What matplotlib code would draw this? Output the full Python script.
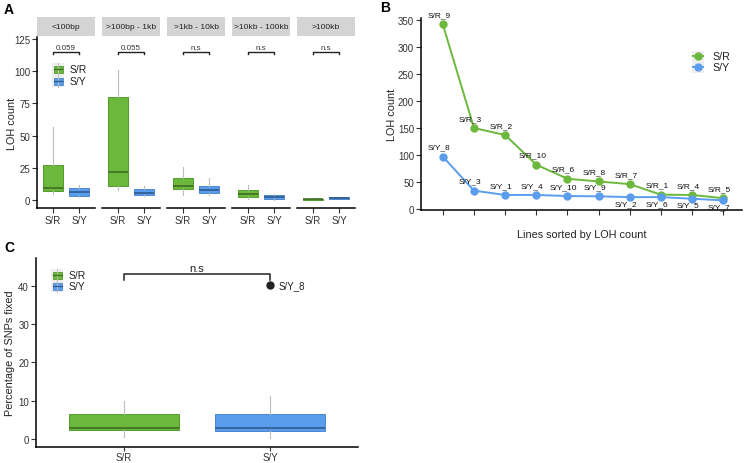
import matplotlib
matplotlib.use('Agg')
import matplotlib.pyplot as plt
from matplotlib.patches import Rectangle
from matplotlib.lines import Line2D

plt.rcParams['font.family'] = ['Liberation Sans', 'DejaVu Sans']

# ---------------- data ----------------
groups = ['S/R', 'S/Y']
size_bins = ['<100bp', '>100bp - 1kb', '>1kb - 10kb', '>10kb - 100kb', '>100kb']
# five-number summaries per size bin: [whisker low, Q1, median, Q3, whisker high]
sr_stats = [[5, 7, 9.5, 27, 57], [8, 11, 22, 80, 101], [4, 8.5, 10.5, 17, 26],
            [1, 2, 4.5, 7.5, 11.5], [0, 0, 0.5, 1, 1.5]]
sy_stats = [[2, 3, 6.5, 9.5, 12], [3, 4, 5.5, 8.5, 11], [4, 5.5, 8, 11, 17],
            [0, 1, 2.5, 4, 4.5], [0.5, 1, 1.5, 2, 2.2]]
pvals = ['0.059', '0.055', 'n.s', 'n.s', 'n.s']
bracket_y_a = 115
yticks_a = [0, 25, 50, 75, 100, 125]

sr_labels = ['S/R_9', 'S/R_3', 'S/R_2', 'S/R_10', 'S/R_6', 'S/R_8', 'S/R_7', 'S/R_1', 'S/R_4', 'S/R_5']
sr_counts = [342, 150, 137, 82, 56, 51, 46, 26.5, 26, 20]
sy_labels = ['S/Y_8', 'S/Y_3', 'S/Y_1', 'S/Y_4', 'S/Y_10', 'S/Y_9', 'S/Y_2', 'S/Y_6', 'S/Y_5', 'S/Y_7']
sy_counts = [97, 34, 26, 26, 24, 23.5, 22, 22, 19, 16]
yticks_b = [0, 50, 100, 150, 200, 250, 300, 350]

snp_sr = [0.6, 2.3, 2.9, 6.6, 9.8]
snp_sy = [0.35, 2.0, 3.0, 6.6, 11.3]
snp_outlier = 40.2
snp_outlier_label = 'S/Y_8'
bracket_y_c = 43
yticks_c = [0, 10, 20, 30, 40]

# ---------------- style ----------------
GREEN, GREEN_E, GREEN_M = '#6cb83d', '#559a2e', '#3c6e22'
BLUE, BLUE_E, BLUE_M = '#5b9ded', '#4d86cc', '#2e5a8c'
WHISK = '#bdbdbd'
fills = [GREEN, BLUE]
edges = [GREEN_E, BLUE_E]
meds = [GREEN_M, BLUE_M]

W, H = 744, 464
fig = plt.figure(figsize=(W / 100, H / 100), dpi=100)


def px_axes(l, t, r, b):
    return fig.add_axes([l / W, 1 - b / H, (r - l) / W, (b - t) / H])


def fx(x):
    return x / W


def fy(y):
    return 1 - y / H


def style_axes(ax, left=True):
    for s in ['top', 'right']:
        ax.spines[s].set_visible(False)
    ax.spines['left'].set_visible(left)
    ax.spines['bottom'].set_linewidth(1.1)
    ax.spines['left'].set_linewidth(1.1)
    ax.tick_params(axis='both', length=3.5, width=0.8, labelsize=7, colors='#333333',
                   labelcolor='#333333', pad=1.5)
    ax.patch.set_alpha(0)


def draw_box(ax, pos, st, i, width=0.75):
    stats = [dict(whislo=st[0], q1=st[1], med=st[2], q3=st[3], whishi=st[4], fliers=[])]
    ax.bxp(stats, positions=[pos], widths=width, patch_artist=True, showcaps=False,
           showfliers=False,
           boxprops=dict(facecolor=fills[i], edgecolor=edges[i], linewidth=0.7),
           medianprops=dict(color=meds[i], linewidth=1.2),
           whiskerprops=dict(color=WHISK, linewidth=0.8), manage_ticks=False)


def box_legend(x, ys, fs=7.5):
    for i, y in enumerate(ys):
        fig.add_artist(Rectangle((fx(x - 6), fy(y + 6)), 12 / W, 12 / H, transform=fig.transFigure,
                                 facecolor='#eeeeee', edgecolor='none'))
        fig.add_artist(Line2D([fx(x), fx(x)], [fy(y + 6), fy(y - 6)], transform=fig.transFigure,
                              color=WHISK, lw=0.7))
        fig.add_artist(Rectangle((fx(x - 4.5), fy(y + 3.5)), 9 / W, 7 / H, transform=fig.transFigure,
                                 facecolor=fills[i], edgecolor=edges[i], lw=0.6))
        fig.add_artist(Line2D([fx(x - 4.5), fx(x + 4.5)], [fy(y), fy(y)], transform=fig.transFigure,
                              color=meds[i], lw=0.9))
        fig.text(fx(x + 12), fy(y), groups[i], fontsize=fs, va='center', ha='left', color='#222222')


# ---------------- Panel A ----------------
top_a, bot_a = 38, 209
ppu = (201 - 40) / 125.0
ylo = -(bot_a - 201) / ppu
yhi = (201 - top_a) / ppu
for k, name in enumerate(size_bins):
    l = 37 + 65 * k
    ax = px_axes(l, top_a, l + 58, bot_a)
    draw_box(ax, 1, sr_stats[k], 0)
    draw_box(ax, 2, sy_stats[k], 1)
    ax.set_xlim(0.4, 2.6)
    ax.set_ylim(ylo, yhi)
    ax.set_xticks([1, 2])
    ax.set_xticklabels(groups, fontsize=7)
    style_axes(ax, left=(k == 0))
    if k == 0:
        ax.set_yticks(yticks_a)
        ax.set_ylabel('LOH count', fontsize=7.8, color='#222222')
        ax.yaxis.set_label_coords((17 - 37) / 58, 0.5)
    else:
        ax.set_yticks([])
    # bracket
    ax.plot([1, 1, 2, 2], [bracket_y_a - 1.8, bracket_y_a, bracket_y_a, bracket_y_a - 1.8],
            color='#222222', lw=1.0, clip_on=False)
    ax.text(1.5, bracket_y_a + 0.8, pvals[k], fontsize=5.8, ha='center', va='bottom', color='#333333')
    # strip
    sh = (top_a - 19) / (bot_a - top_a)
    ax.add_patch(Rectangle((0, 1.005), 1, sh, transform=ax.transAxes, clip_on=False,
                           facecolor='#d4d4d4', edgecolor='none'))
    ax.text(0.5, 1.005 + sh / 2, name, transform=ax.transAxes, ha='center', va='center',
            fontsize=6.1, color='#222222')

box_legend(58, [70, 82])

# ---------------- Panel B ----------------
axb = px_axes(421, 19, 742, 211)
x = list(range(1, len(sr_counts) + 1))
axb.plot(x, sr_counts, color=GREEN, lw=1.4, marker='o', ms=5, zorder=3)
axb.plot(x, sy_counts, color=BLUE, lw=1.4, marker='o', ms=5, zorder=3)
ppb = (210 - 21) / 350.0
axb.set_ylim(-1 / ppb, 350 + 2 / ppb)
axb.set_xlim(0.3, 10.6)
axb.set_xticks(x)
axb.set_xticklabels([])
axb.set_yticks(yticks_b)
style_axes(axb)
axb.set_ylabel('LOH count', fontsize=7.8, color='#222222')
axb.yaxis.set_label_coords((397 - 421) / 321, 0.5)
axb.set_xlabel('Lines sorted by LOH count', fontsize=7.8, color='#222222', labelpad=9)
below = {'S/Y_2', 'S/Y_6', 'S/Y_5', 'S/Y_7'}
for xi, v, lab in zip(x, sr_counts, sr_labels):
    axb.annotate(lab, (xi, v), xytext=(-4, 6), textcoords='offset pixels', ha='center',
                 va='bottom', fontsize=6, color='#111111')
for xi, v, lab in zip(x, sy_counts, sy_labels):
    if lab in below:
        axb.annotate(lab, (xi, v), xytext=(-4, -3), textcoords='offset pixels', ha='center',
                     va='top', fontsize=6, color='#111111')
    else:
        axb.annotate(lab, (xi, v), xytext=(-4, 6), textcoords='offset pixels', ha='center',
                     va='bottom', fontsize=6, color='#111111')

# legend B
for i, (y, c) in enumerate(zip([57, 68], [GREEN, BLUE])):
    fig.add_artist(Rectangle((fx(692), fy(y + 5.5)), 12 / W, 11 / H, transform=fig.transFigure,
                             facecolor='#eeeeee', edgecolor='none'))
    fig.add_artist(Line2D([fx(693), fx(703)], [fy(y), fy(y)], transform=fig.transFigure,
                          color=c, lw=1.4))
    fig.add_artist(Line2D([fx(698)], [fy(y)], transform=fig.transFigure, color=c,
                          marker='o', ms=5))
    fig.text(fx(712), fy(y), groups[i], fontsize=7.7, va='center', ha='left', color='#222222')

# ---------------- Panel C ----------------
axc = px_axes(36, 259, 358, 448)
draw_box(axc, 1, snp_sr, 0)
draw_box(axc, 2, snp_sy, 1)
axc.plot([2], [snp_outlier], 'o', color='#222222', ms=5)
axc.annotate(snp_outlier_label, (2, snp_outlier), xytext=(8, 0), textcoords='offset pixels',
             va='center', ha='left', fontsize=7, color='#222222')
ppc = (440 - 286.7) / 40.0
axc.set_ylim(-(448 - 440) / ppc, (440 - 259) / ppc)
axc.set_xlim(0.4, 2.6)
axc.set_xticks([1, 2])
axc.set_xticklabels(groups, fontsize=7)
axc.set_yticks(yticks_c)
style_axes(axc)
axc.tick_params(axis='x', length=3, pad=0.5)
axc.set_ylabel('Percentage of SNPs fixed', fontsize=7.8, color='#222222')
axc.yaxis.set_label_coords((15 - 36) / 322, 0.5)
axc.plot([1, 1, 2, 2], [bracket_y_c - 1.5, bracket_y_c, bracket_y_c, bracket_y_c - 1.5],
         color='#222222', lw=1.1)
axc.text(1.5, bracket_y_c + 0.2, 'n.s', fontsize=8, ha='center', va='bottom', color='#222222')
box_legend(57, [276, 287])

# panel letters
fig.text(fx(4), fy(10), 'A', fontsize=10, fontweight='bold', va='center', ha='left')
fig.text(fx(380), fy(8), 'B', fontsize=10, fontweight='bold', va='center', ha='left')
fig.text(fx(4), fy(248), 'C', fontsize=10, fontweight='bold', va='center', ha='left')

fig.savefig('out.png', dpi=100)
